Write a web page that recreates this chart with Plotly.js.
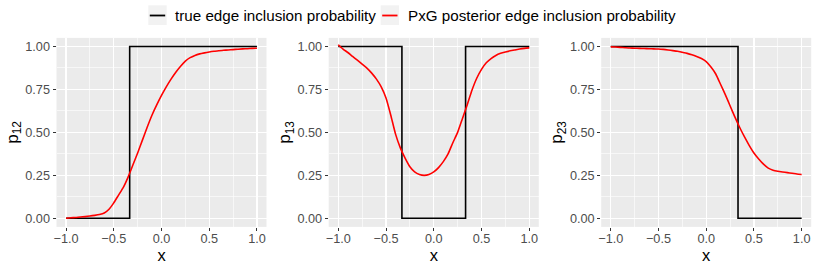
<!DOCTYPE html>
<html>
<head>
<meta charset="utf-8">
<script src="https://cdn.plot.ly/plotly-3.0.1.min.js"></script>
<style>html,body{margin:0;padding:0;background:#fff;}#chart{width:817px;height:270px;}</style>
</head>
<body>
<div id="chart"></div>
<script>
// ---- data ----
const seriesNames = ["true edge inclusion probability", "PxG posterior edge inclusion probability"];
const panelTitles = ["p<sub>12</sub>", "p<sub>13</sub>", "p<sub>23</sub>"];
const xTitle = "x";

// true (step) curves
const trueX12 = [-1, -1/3, -1/3, 1];
const trueY12 = [0, 0, 1, 1];
const trueX13 = [-1, -1/3, -1/3, 1/3, 1/3, 1];
const trueY13 = [1, 1, 0, 0, 1, 1];
const trueX23 = [-1, 1/3, 1/3, 1];
const trueY23 = [1, 1, 0, 0];

// posterior curves
const postX = [-1, -0.95, -0.9, -0.85, -0.8, -0.75, -0.7, -0.65, -0.6, -0.55, -0.5, -0.45, -0.4, -0.35, -0.3, -0.25, -0.2, -0.15, -0.1, -0.05,
               0, 0.05, 0.1, 0.15, 0.2, 0.25, 0.3, 0.35, 0.4, 0.45, 0.5, 0.55, 0.6, 0.65, 0.7, 0.75, 0.8, 0.85, 0.9, 0.95, 1];
const postY12 = [0, 0.003, 0.005, 0.008, 0.01, 0.013, 0.017, 0.022, 0.031, 0.053, 0.09, 0.135, 0.18, 0.24, 0.31, 0.38, 0.455, 0.53, 0.60, 0.66,
                 0.715, 0.765, 0.81, 0.85, 0.885, 0.915, 0.935, 0.948, 0.957, 0.963, 0.968, 0.972, 0.975, 0.978, 0.98, 0.982, 0.984, 0.986, 0.987, 0.989, 0.99];
const postY13 = [1.01, 0.985, 0.965, 0.942, 0.92, 0.897, 0.874, 0.845, 0.81, 0.765, 0.70, 0.60, 0.49, 0.41, 0.35, 0.30, 0.27, 0.255, 0.25, 0.255,
                 0.27, 0.295, 0.33, 0.375, 0.44, 0.50, 0.58, 0.66, 0.745, 0.815, 0.867, 0.905, 0.93, 0.948, 0.96, 0.968, 0.975, 0.98, 0.985, 0.989, 0.992];
const postY23 = [0.998, 0.997, 0.995, 0.993, 0.991, 0.99, 0.989, 0.988, 0.987, 0.986, 0.985, 0.983, 0.98, 0.976, 0.972, 0.966, 0.96, 0.952, 0.942, 0.93,
                 0.912, 0.88, 0.84, 0.78, 0.72, 0.655, 0.59, 0.53, 0.475, 0.425, 0.38, 0.345, 0.315, 0.292, 0.28, 0.274, 0.27, 0.266, 0.262, 0.258, 0.255];

// ticks
const xTickVals = [-1, -0.5, 0, 0.5, 1];
const xTickText = ["\u22121.0", "\u22120.5", "0.0", "0.5", "1.0"];
const xMinorVals = [-0.75, -0.25, 0.25, 0.75];
const yTickVals = [0, 0.25, 0.5, 0.75, 1];
const yTickText = ["0.00", "0.25", "0.50", "0.75", "1.00"];
const yMinorVals = [0.125, 0.375, 0.625, 0.875];

// ---- build ----
const W = 817, H = 270;
const FONT = "Liberation Sans, Arial, sans-serif";
const px = v => v / W;
const py = v => 1 - v / H;

const trueSets = [[trueX12, trueY12], [trueX13, trueY13], [trueX23, trueY23]];
const postSets = [postY12, postY13, postY23];

const traces = [];
for (let i = 0; i < 3; i++) {
  const sfx = i === 0 ? "" : String(i + 1);
  traces.push({x: trueSets[i][0], y: trueSets[i][1], type: "scatter", mode: "lines",
    name: seriesNames[0], showlegend: false, line: {color: "#000000", width: 1.6},
    xaxis: "x" + sfx, yaxis: "y" + sfx, hoverinfo: "skip"});
  traces.push({x: postX, y: postSets[i], type: "scatter", mode: "lines",
    name: seriesNames[1], showlegend: false,
    line: {color: "#FF0000", width: 1.6, shape: "spline", smoothing: 0.5},
    xaxis: "x" + sfx, yaxis: "y" + sfx, hoverinfo: "skip"});
}

const xDomains = [[56.5, 266.5], [328.7, 538.8], [601.2, 811.2]];
const yDomain = [py(226.9), py(37.9)];

const layout = {
  width: W, height: H,
  margin: {l: 0, r: 0, t: 0, b: 0, pad: 0},
  paper_bgcolor: "#FFFFFF", plot_bgcolor: "#EBEBEB",
  font: {family: FONT, color: "#000000"},
  showlegend: false, shapes: [], annotations: []
};

for (let i = 0; i < 3; i++) {
  const sfx = i === 0 ? "" : String(i + 1);
  layout["xaxis" + sfx] = {
    domain: [px(xDomains[i][0]), px(xDomains[i][1])],
    anchor: "y" + sfx, range: [-1.1, 1.1],
    tickmode: "array", tickvals: xTickVals, ticktext: xTickText,
    ticks: "outside", ticklen: 3, tickwidth: 1, tickcolor: "#333333",
    ticklabelstandoff: -3,
    tickfont: {family: FONT, size: 12.7, color: "#4D4D4D"},
    showgrid: true, gridcolor: "#FFFFFF", gridwidth: 1.2,
    minor: {tickmode: "array", tickvals: xMinorVals, showgrid: true, gridcolor: "#FFFFFF", gridwidth: 0.6, ticks: ""},
    zeroline: false, showline: false, fixedrange: true,
    title: {text: xTitle, font: {family: FONT, size: 16.5, color: "#000000"}, standoff: 2}
  };
  layout["yaxis" + sfx] = {
    domain: yDomain, anchor: "x" + sfx, range: [-0.05, 1.05],
    tickmode: "array", tickvals: yTickVals, ticktext: yTickText,
    ticks: "outside", ticklen: 3, tickwidth: 1, tickcolor: "#333333",
    tickfont: {family: FONT, size: 12.7, color: "#4D4D4D"},
    showgrid: true, gridcolor: "#FFFFFF", gridwidth: 1.2,
    minor: {tickmode: "array", tickvals: yMinorVals, showgrid: true, gridcolor: "#FFFFFF", gridwidth: 0.6, ticks: ""},
    zeroline: false, showline: false, fixedrange: true,
    title: {text: panelTitles[i], font: {family: FONT, size: 17, color: "#000000"}, standoff: 2}
  };
}

// custom legend (ggplot style keys)
const keyBoxes = [[148.3, 166.7], [380.7, 399.0]];
const keyColors = ["#000000", "#FF0000"];
const textLeft = [173.3, 406.0];
for (let k = 0; k < 2; k++) {
  layout.shapes.push({type: "rect", xref: "paper", yref: "paper",
    x0: px(keyBoxes[k][0]), x1: px(keyBoxes[k][1]), y0: py(25), y1: py(5.3),
    fillcolor: "#F2F2F2", line: {width: 0}, layer: "below"});
  layout.shapes.push({type: "line", xref: "paper", yref: "paper",
    x0: px(keyBoxes[k][0] + 1.5), x1: px(keyBoxes[k][1] - 1.5), y0: py(15.5), y1: py(15.5),
    line: {color: keyColors[k], width: 1.8}});
  layout.annotations.push({xref: "paper", yref: "paper", x: px(textLeft[k]), y: py(15.5),
    xanchor: "left", yanchor: "middle", showarrow: false, text: seriesNames[k],
    font: {family: FONT, size: 15.2, color: "#000000"}});
}

Plotly.newPlot("chart", traces, layout, {staticPlot: true, displayModeBar: false});
</script>
</body>
</html>
